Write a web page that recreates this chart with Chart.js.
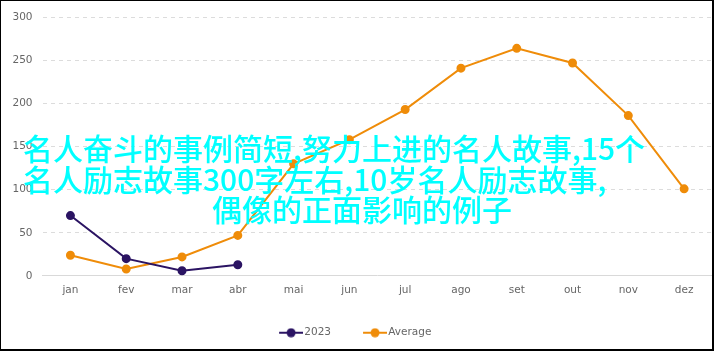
<!DOCTYPE html>
<html>
<head>
<meta charset="utf-8">
<script src="https://cdn.jsdelivr.net/npm/chart.js@4"></script>
<style>
  html, body { margin: 0; padding: 0; background: #fff; }
  #frame {
    position: relative;
    width: 714px; height: 351px;
    box-sizing: border-box;
    border-style: solid;
    border-color: #000;
    border-width: 1px 2px 2px 1px;
    background: #fff;
  }
  #wrap { position: absolute; left: 0; top: 0; width: 711px; height: 348px; }
  .over {
    position: absolute;
    font-family: "Noto Sans CJK SC", sans-serif;
    font-weight: 500;
    font-size: 30px;
    line-height: 30px;
    color: #00ffff;
    white-space: nowrap;
  }
</style>
</head>
<body>
<div id="frame">
  <div id="wrap"><canvas id="myChart"></canvas></div>
  <div class="over" style="left:22px; top:131px;">名人奋斗的事例简短,努力上进的名人故事,15个</div>
  <div class="over" style="left:22px; top:162px;">名人励志故事300字左右,10岁名人励志故事,</div>
  <div class="over" style="left:211px; top:192px;">偶像的正面影响的例子</div>
</div>
<script>
let months = ['jan', 'fev', 'mar', 'abr', 'mai', 'jun', 'jul', 'ago', 'set', 'out', 'nov', 'dez'];
let values2023 = [70, 20, 6, 13];
let valuesAverage = [24, 8, 22, 47, 130, 158, 193, 241, 264, 247, 186, 101];
let yTicks = [0, 50, 100, 150, 200, 250, 300];

const purple = '#2b1463';
const orange = '#ef8c09';

// legend mark: a short line with a dot; the canvas is a bit wider than the
// legend box so the line ends right next to the label text
function legendMark(color) {
  let c = document.createElement('canvas');
  c.width = 38;
  c.height = 10;
  let g = c.getContext('2d');
  g.strokeStyle = color;
  g.lineWidth = 2;
  g.beginPath();
  g.moveTo(14, 5);
  g.lineTo(38, 5);
  g.stroke();
  g.fillStyle = color;
  g.beginPath();
  g.arc(26, 5, 4.5, 0, Math.PI * 2);
  g.fill();
  return c;
}

const data = {
  labels: months,
  datasets: [{
    label: '2023',
    data: values2023,
    borderColor: purple,
    backgroundColor: purple,
    borderWidth: 2,
    pointRadius: 3.5,
    pointHoverRadius: 3.5,
    tension: 0
  }, {
    label: 'Average',
    data: valuesAverage,
    borderColor: orange,
    backgroundColor: orange,
    borderWidth: 2,
    pointRadius: 3.5,
    pointHoverRadius: 3.5,
    tension: 0
  }]
};

const marks = [legendMark(purple), legendMark(orange)];

// nudge the legend a little left so the visible marks are centred
const legendShift = {
  id: 'legendShift',
  afterLayout(chart) {
    chart.legend.left -= 7;
    chart.legend.right -= 7;
  }
};

const config = {
  type: 'line',
  data: data,
  options: {
    responsive: true,
    maintainAspectRatio: false,
    animation: false,
    layout: { autoPadding: false, padding: { top: 14, right: 0, bottom: 1, left: 1.5 } },
    scales: {
      x: {
        offset: true,
        grid: { display: false, drawTicks: false },
        border: { display: true, color: '#d9d9d9', width: 1 },
        ticks: {
          color: '#666',
          font: { family: 'DejaVu Sans', size: 10.5 },
          padding: 8.5
        }
      },
      y: {
        min: 0,
        max: 300,
        afterBuildTicks: (scale) => { scale.ticks = yTicks.map(v => ({ value: v })); },
        grid: { color: '#dcdcdc', drawTicks: false },
        border: { display: false, dash: [4, 4] },
        ticks: {
          color: '#666',
          font: { family: 'DejaVu Sans', size: 10.5 },
          padding: 10
        }
      }
    },
    plugins: {
      legend: {
        position: 'bottom',
        labels: {
          usePointStyle: true,
          pointStyleWidth: 30,
          padding: 22,
          color: '#666',
          font: { family: 'DejaVu Sans', size: 10.5 },
          generateLabels: (chart) => chart.data.datasets.map((ds, i) => ({
            text: ds.label,
            pointStyle: marks[i],
            fontColor: '#666',
            datasetIndex: i,
            hidden: false,
            lineWidth: 0
          }))
        }
      },
      tooltip: { enabled: false }
    }
  },
  plugins: [legendShift]
};

const myChart = new Chart(
  document.getElementById('myChart'),
  config
);
</script>
</body>
</html>
